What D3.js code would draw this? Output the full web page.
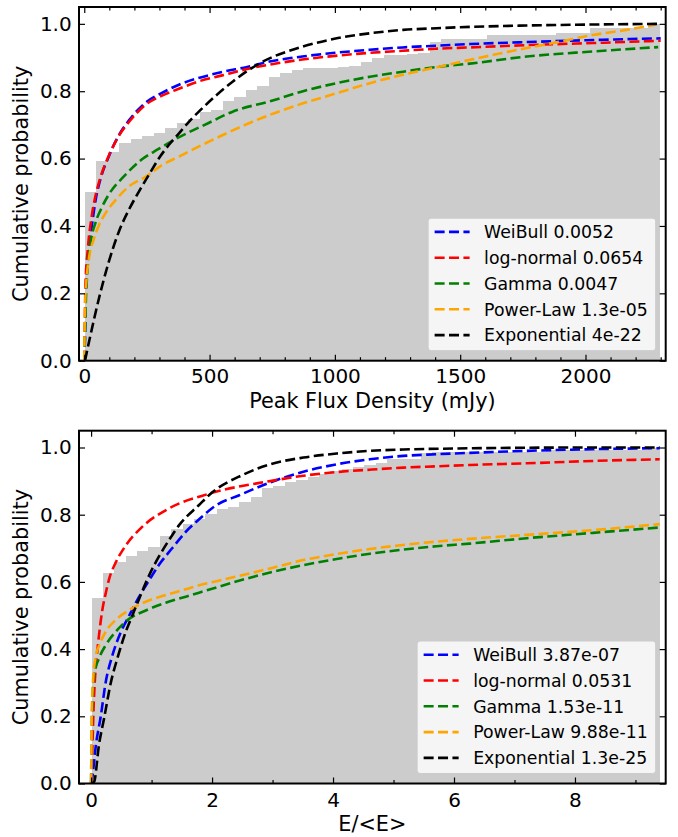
<!DOCTYPE html>
<html>
<head>
<meta charset="utf-8">
<script src="https://cdn.jsdelivr.net/npm/d3@7"></script>
<style>
body { margin: 0; background: #fff; }
svg { font-family: "DejaVu Sans", sans-serif; }
</style>
</head>
<body>
<div id="container"></div>
<script>
// cumulative histograms, 50 bins each
const fluxRange = [3, 2294];
const fluxHist = [0.500,0.593,0.620,0.646,0.658,0.666,0.677,0.690,0.705,0.718,
    0.738,0.745,0.771,0.784,0.804,0.816,0.842,0.854,0.863,0.868,
    0.868,0.870,0.873,0.875,0.888,0.898,0.908,0.908,0.910,0.913,
    0.947,0.954,0.954,0.954,0.954,0.967,0.967,0.967,0.967,0.967,
    0.967,0.972,0.972,0.972,0.987,0.987,0.987,0.987,0.987,1.000];

const energyRange = [0.01, 9.40];
const energyHist = [0.553,0.626,0.660,0.677,0.693,0.705,0.737,0.757,0.771,0.786,
    0.801,0.816,0.824,0.839,0.854,0.878,0.886,0.898,0.904,0.911,
    0.921,0.931,0.937,0.942,0.947,0.953,0.965,0.965,0.965,0.985,
    0.987,0.987,0.987,0.987,0.987,0.987,0.987,0.987,0.987,0.987,
    0.993,0.993,0.993,0.993,0.993,0.993,0.993,0.993,0.993,1.000];

// fitted CDFs, [x, probability]
const fluxWeibull = [[0,0],[3,0.07],[6,0.20],[16,0.31],[32,0.41],[46,0.48],[65,0.54],[100,0.61],[140,0.672],[180,0.715],[245,0.766],[310,0.795],[380,0.82],[460,0.84],[550,0.857],[650,0.872],[740,0.888],[870,0.903],[1000,0.914],[1140,0.923],[1270,0.930],[1400,0.935],[1540,0.940],[1770,0.946],[2030,0.952],[2300,0.957]];
const fluxLognormal = [[0,0],[2,0.1],[5,0.23],[14,0.33],[30,0.43],[45,0.49],[65,0.545],[100,0.612],[140,0.67],[180,0.71],[245,0.760],[310,0.787],[380,0.808],[460,0.830],[550,0.847],[650,0.866],[740,0.879],[870,0.894],[1000,0.905],[1140,0.914],[1270,0.920],[1400,0.926],[1540,0.930],[1770,0.937],[2030,0.943],[2300,0.950]];
const fluxGamma = [[0,0],[2,0.05],[6,0.17],[12,0.26],[25,0.35],[45,0.41],[70,0.455],[95,0.49],[162,0.55],[229,0.597],[295,0.628],[362,0.657],[494,0.705],[594,0.74],[741,0.77],[873,0.80],[1007,0.824],[1140,0.843],[1272,0.858],[1406,0.872],[1539,0.882],[1765,0.903],[2030,0.918],[2290,0.931]];
const fluxPower = [[0,0],[1.5,0.1],[4,0.18],[10,0.25],[19,0.305],[39,0.363],[59,0.403],[85,0.438],[125,0.477],[178,0.517],[245,0.546],[311,0.581],[378,0.606],[458,0.636],[741,0.73],[873,0.764],[1007,0.794],[1140,0.824],[1272,0.849],[1406,0.871],[1539,0.893],[1632,0.908],[1765,0.928],[1898,0.947],[2030,0.967],[2163,0.982],[2280,0.998]];
const fluxExp = [[3,0],[19,0.056],[59,0.186],[98,0.294],[138,0.383],[178,0.448],[218,0.502],[258,0.552],[298,0.601],[338,0.641],[378,0.675],[431,0.72],[458,0.74],[593,0.829],[700,0.883],[870,0.932],[1007,0.957],[1140,0.972],[1272,0.982],[1406,0.987],[1539,0.991],[1765,0.995],[2030,0.998],[2300,1.0]];

const energyWeibull = [[0.01,0],[0.02,0.015],[0.08,0.115],[0.16,0.20],[0.24,0.30],[0.35,0.38],[0.49,0.45],[0.63,0.50],[0.79,0.555],[0.96,0.605],[1.12,0.65],[1.34,0.70],[1.57,0.75],[1.79,0.787],[2.05,0.826],[2.45,0.858],[2.96,0.896],[3.51,0.928],[4.06,0.950],[4.61,0.965],[5.16,0.975],[5.71,0.980],[6.26,0.984],[7.2,0.990],[8.3,0.995],[9.4,0.998]];
const energyLognormal = [[0,0],[0.02,0.1],[0.04,0.22],[0.06,0.30],[0.09,0.37],[0.13,0.44],[0.18,0.51],[0.24,0.565],[0.30,0.61],[0.40,0.655],[0.56,0.705],[0.84,0.763],[1.28,0.818],[1.94,0.862],[2.96,0.900],[3.51,0.916],[4.06,0.927],[4.61,0.934],[5.16,0.940],[5.71,0.944],[6.26,0.948],[7.2,0.953],[8.3,0.960],[9.4,0.965]];
const energyGamma = [[0,0],[0.005,0.1],[0.015,0.2],[0.03,0.28],[0.05,0.323],[0.132,0.373],[0.243,0.412],[0.408,0.452],[0.628,0.49],[0.904,0.515],[1.235,0.538],[1.565,0.556],[1.785,0.568],[2.96,0.628],[3.51,0.65],[4.06,0.668],[4.61,0.684],[5.16,0.696],[5.71,0.706],[6.26,0.714],[7.2,0.73],[8.3,0.746],[9.4,0.762]];
const energyPower = [[0,0],[0.005,0.1],[0.01,0.2],[0.03,0.3],[0.078,0.38],[0.132,0.41],[0.243,0.452],[0.408,0.487],[0.628,0.516],[0.904,0.541],[1.235,0.561],[1.565,0.578],[1.785,0.59],[2.02,0.60],[2.96,0.64],[3.51,0.665],[4.06,0.683],[4.61,0.698],[5.16,0.71],[5.71,0.72],[6.26,0.728],[7.2,0.74],[8.3,0.754],[9.4,0.772]];
const energyExp = [[0.01,0],[0.05,0.005],[0.13,0.115],[0.215,0.194],[0.326,0.30],[0.435,0.373],[0.574,0.452],[0.683,0.501],[0.82,0.561],[0.96,0.62],[1.12,0.675],[1.29,0.725],[1.455,0.769],[1.785,0.829],[2.0,0.866],[2.5,0.918],[2.96,0.950],[3.51,0.970],[4.06,0.982],[4.61,0.990],[5.16,0.994],[6.0,0.997],[7.0,0.999],[8.3,1.0],[9.4,1.0]];

const fluxLabels = ["WeiBull 0.0052","log-normal 0.0654","Gamma 0.0047","Power-Law 1.3e-05","Exponential 4e-22"];
const energyLabels = ["WeiBull 3.87e-07","log-normal 0.0531","Gamma 1.53e-11","Power-Law 9.88e-11","Exponential 1.3e-25"];
const fitColors = ["blue","red","green","orange","black"];

const yTicks = [0, 0.2, 0.4, 0.6, 0.8, 1.0];
const fluxTicks = [0, 500, 1000, 1500, 2000];
const fluxMinor = d3.range(100, 2301, 100).filter(v => v % 500 != 0);
const energyTicks = [0, 2, 4, 6, 8];
const energyMinor = [1, 3, 5, 7, 9];

const w = 678, h = 837;
const left = 79, right = 665.7;

let svg = d3.select("#container")
    .append("svg")
    .attr("width", w)
    .attr("height", h);

function makePanel(cfg){
    const top = cfg.top, bottom = cfg.bottom;
    const xScale = d3.scaleLinear().domain(cfg.xDomain).range([left, right]);
    const yScale = d3.scaleLinear().domain([0, 1.05]).range([bottom, top]);
    const g = svg.append("g");

    g.append("defs").append("clipPath")
        .attr("id", cfg.id + "-clip")
        .append("rect")
        .attr("x", left).attr("y", top)
        .attr("width", right - left).attr("height", bottom - top);

    const plot = g.append("g").attr("clip-path", "url(#" + cfg.id + "-clip)");

    const binW = (cfg.range[1] - cfg.range[0]) / cfg.hist.length;
    plot.selectAll("rect.bar")
        .data(cfg.hist)
        .enter()
        .append("rect")
        .attr("class", "bar")
        .attr("x", (d, i) => xScale(cfg.range[0] + i * binW))
        .attr("width", xScale(cfg.range[0] + binW) - xScale(cfg.range[0]) + 0.4)
        .attr("y", d => yScale(d))
        .attr("height", d => yScale(0) - yScale(d))
        .attr("fill", "#cccccc")
        .attr("shape-rendering", "crispEdges");

    const line = d3.line()
        .x(d => xScale(d[0]))
        .y(d => yScale(d[1]))
        .curve(d3.curveMonotoneX);

    cfg.fits.forEach((pts, i) => {
        plot.append("path")
            .attr("d", line(pts))
            .attr("fill", "none")
            .attr("stroke", fitColors[i])
            .attr("stroke-width", 2.6)
            .attr("stroke-dasharray", "10,4.4");
    });

    // legend
    const leg = g.append("g");
    const box = leg.append("rect")
        .attr("rx", 3).attr("ry", 3)
        .attr("fill", "rgba(255,255,255,0.8)")
        .attr("stroke", "#cccccc")
        .attr("stroke-width", 1);
    let maxLen = 0;
    cfg.labels.forEach((lab, i) => {
        const yy = 13.7 + i * 25.8;
        leg.append("line")
            .attr("x1", 6.5).attr("x2", 41.5)
            .attr("y1", yy).attr("y2", yy)
            .attr("stroke", fitColors[i])
            .attr("stroke-width", 2.6)
            .attr("stroke-dasharray", "10,4.4");
        const t = leg.append("text")
            .attr("x", 56).attr("y", yy)
            .attr("dy", "0.36em")
            .attr("font-size", "17.3px")
            .text(lab);
        maxLen = Math.max(maxLen, t.node().getComputedTextLength());
    });
    const bw = 56 + maxLen + 8, bh = 132.5;
    box.attr("width", bw).attr("height", bh);
    leg.attr("transform", "translate(" + (right - 10 - bw) + "," + (bottom - 10 - bh) + ")");

    // axes, ticks inward on all sides
    const fmtY = d3.format(".1f");
    const ax = [
        g.append("g").attr("transform", "translate(0," + bottom + ")")
            .call(d3.axisBottom(xScale).tickValues(cfg.xTicks).tickSize(-6).tickPadding(cfg.xPad).tickFormat(d3.format("d"))),
        g.append("g").attr("transform", "translate(0," + bottom + ")")
            .call(d3.axisBottom(xScale).tickValues(cfg.xMinor).tickSize(-3.5).tickFormat("")),
        g.append("g").attr("transform", "translate(0," + top + ")")
            .call(d3.axisTop(xScale).tickValues(cfg.xTicks).tickSize(-6).tickFormat("")),
        g.append("g").attr("transform", "translate(0," + top + ")")
            .call(d3.axisTop(xScale).tickValues(cfg.xMinor).tickSize(-3.5).tickFormat("")),
        g.append("g").attr("transform", "translate(" + left + ",0)")
            .call(d3.axisLeft(yScale).tickValues(yTicks).tickSize(-6).tickPadding(7.3).tickFormat(fmtY)),
        g.append("g").attr("transform", "translate(" + right + ",0)")
            .call(d3.axisRight(yScale).tickValues(yTicks).tickSize(-6).tickFormat(""))
    ];
    ax.forEach(a => {
        a.select(".domain").remove();
        a.selectAll(".tick line").attr("stroke", "#000").attr("stroke-width", 1.2);
        a.selectAll("text").attr("font-size", "20px").attr("fill", "#000")
            .attr("font-family", "DejaVu Sans, sans-serif");
    });

    g.append("rect")
        .attr("x", left).attr("y", top)
        .attr("width", right - left).attr("height", bottom - top)
        .attr("fill", "none")
        .attr("stroke", "#000")
        .attr("stroke-width", 2);

    g.append("text")
        .attr("x", (left + right) / 2)
        .attr("y", cfg.xLabelY)
        .attr("text-anchor", "middle")
        .attr("font-size", "20.8px")
        .text(cfg.xLabel);

    g.append("text")
        .attr("transform", "translate(28," + ((top + bottom) / 2) + ") rotate(-90)")
        .attr("text-anchor", "middle")
        .attr("font-size", "20.8px")
        .text("Cumulative probability");
}

makePanel({
    id: "flux", top: 7, bottom: 360.7,
    xDomain: [-21, 2320],
    range: fluxRange, hist: fluxHist,
    fits: [fluxWeibull, fluxLognormal, fluxGamma, fluxPower, fluxExp],
    labels: fluxLabels,
    xTicks: fluxTicks, xMinor: fluxMinor, xPad: 8,
    xLabel: "Peak Flux Density (mJy)", xLabelY: 408
});

makePanel({
    id: "energy", top: 430.7, bottom: 783.5,
    xDomain: [-0.2, 9.5],
    range: energyRange, hist: energyHist,
    fits: [energyWeibull, energyLognormal, energyGamma, energyPower, energyExp],
    labels: energyLabels,
    xTicks: energyTicks, xMinor: energyMinor, xPad: 9.5,
    xLabel: "E/<E>", xLabelY: 831
});
</script>
</body>
</html>
